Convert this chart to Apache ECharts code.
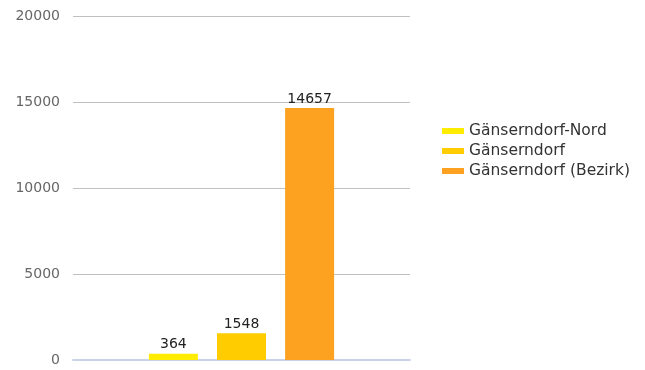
<!DOCTYPE html>
<html><head><meta charset="utf-8">
<script src="https://cdn.jsdelivr.net/npm/echarts@6/dist/echarts.min.js"></script>
<style>html,body{margin:0;padding:0;background:#fff}#c{width:645px;height:370px}</style>
</head><body><div id="c"></div>
<script>
var categories = ['Gänserndorf'];
var seriesNames = ['Gänserndorf-Nord', 'Gänserndorf', 'Gänserndorf (Bezirk)'];
var valuesNord = [364];
var valuesGemeinde = [1548];
var valuesBezirk = [14657];
var colors = ['#FFEC00', '#FFCC00', '#FCA120'];
var dataSets = [valuesNord, valuesGemeinde, valuesBezirk];
var chart = echarts.init(document.getElementById('c'));
chart.setOption({
  animation: false,
  textStyle: {fontFamily: 'DejaVu Sans'},
  grid: {left: 73, right: 235, top: 16, bottom: 10, containLabel: false},
  legend: {
    orient: 'vertical', left: 437, top: 118, itemWidth: 22, itemHeight: 6, itemGap: 4,
    icon: 'rect',
    textStyle: {fontSize: 15.5, color: '#333', fontFamily: 'DejaVu Sans'},
    data: seriesNames
  },
  xAxis: {type: 'category', data: categories, axisLabel: {show: false}, axisTick: {show: false},
    axisLine: {lineStyle: {color: '#C8D3E6', width: 2}}},
  yAxis: {type: 'value', min: 0, max: 20000, interval: 5000,
    axisLabel: {color: '#666', fontSize: 14, margin: 13, formatter: function (v) { return String(v); }},
    splitLine: {lineStyle: {color: '#C0C0C0'}}, axisLine: {show: false}, axisTick: {show: false}},
  series: seriesNames.map(function (n, i) {
    return {name: n, type: 'bar', data: dataSets[i], barWidth: 49, barGap: '39%',
      itemStyle: {color: colors[i]},
      label: {show: true, position: 'top', distance: 2, color: '#222', fontSize: 14}};
  })
});
</script></body></html>
